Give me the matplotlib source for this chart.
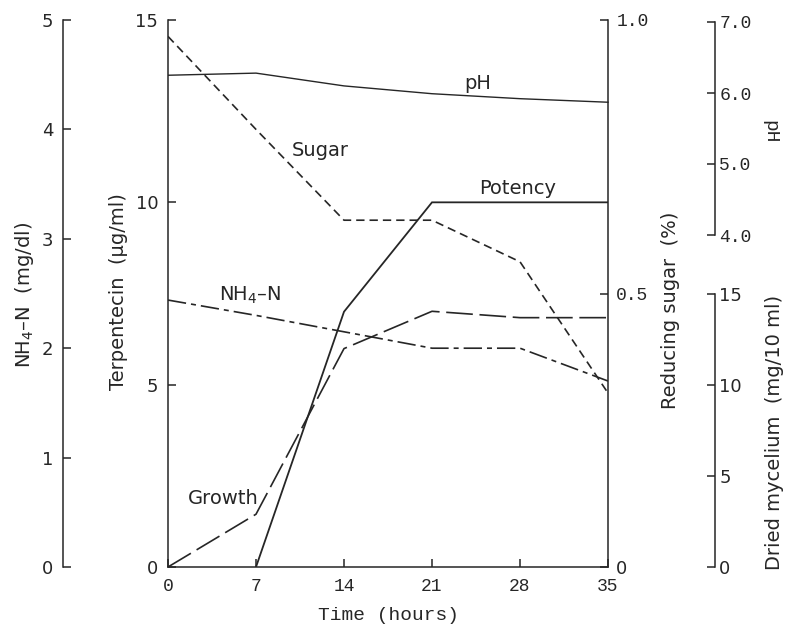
import matplotlib
matplotlib.use("Agg")
from matplotlib import pyplot as plt

# time points (hours)
hours = [0, 7, 14, 21, 28, 35]

potency_t = [7, 14, 21, 28, 35]
potency = [0.0, 7.0, 10.0, 10.0, 10.0]          # Terpentecin (ug/ml)
sugar = [0.97, 0.80, 0.634, 0.634, 0.558, 0.318]  # Reducing sugar (%)
nh4 = [2.44, 2.30, 2.15, 2.0, 2.0, 1.70]        # NH4-N (mg/dl)
growth = [0.0, 2.9, 12.0, 14.05, 13.7, 13.7]    # Dried mycelium (mg/10 ml)
ph = [6.25, 6.28, 6.10, 5.99, 5.92, 5.87]

x_ticks = [0, 7, 14, 21, 28, 35]
terp_ticks = [0, 5, 10, 15]
nh4_ticks = [0, 1, 2, 3, 4, 5]
sugar_ticks = [0, 0.5, 1.0]
sugar_labels = ["0", "0.5", "1.0"]
ph_ticks = [4, 5, 6, 7]
ph_labels = ["4.0", "5.0", "6.0", "7.0"]
myc_ticks = [0, 5, 10, 15]

SANS = "DejaVu Sans"
MONO = "Liberation Mono"
INK = "#262626"

plt.rcParams["mathtext.fontset"] = "dejavusans"

W, H = 787, 630
fig = plt.figure(figsize=(W / 100, H / 100), dpi=100)


def box(x0, y0, x1, y1):
    return [x0 / W, 1 - y1 / H, (x1 - x0) / W, (y1 - y0) / H]


def only_spine(a, side):
    for s in a.spines:
        a.spines[s].set_visible(s == side)
    a.spines[side].set_linewidth(1.1)
    a.spines[side].set_color(INK)


tick_kw = dict(direction="in", length=6, width=1.1, color=INK, labelcolor=INK)

# main axes: terpentecin vs time
ax = fig.add_axes(box(168, 20, 608, 567))
ax.set_xlim(0, 35)
ax.set_ylim(0, 15)
ax.spines["top"].set_visible(False)
ax.spines["right"].set_visible(False)
for s in ["left", "bottom"]:
    ax.spines[s].set_linewidth(1.1)
    ax.spines[s].set_color(INK)
ax.set_xticks(x_ticks)
ax.set_xticklabels([str(t) for t in x_ticks], family=MONO, fontsize=13)
ax.set_yticks(terp_ticks)
ax.set_yticklabels([str(t) for t in terp_ticks], family=SANS, fontsize=13)
ax.tick_params(axis="x", pad=8, **tick_kw)
ax.tick_params(axis="y", pad=7, **tick_kw)
ax.plot(potency_t, potency, color=INK, lw=1.3, solid_joinstyle="miter")

# NH4-N axis, far left
ax_n = ax.twinx()
ax_n.set_ylim(0, 5)
only_spine(ax_n, "left")
ax_n.spines["left"].set_position(("axes", -105 / 440))
ax_n.yaxis.set_ticks_position("left")
ax_n.yaxis.set_label_position("left")
ax_n.set_yticks(nh4_ticks)
ax_n.set_yticklabels([str(t) for t in nh4_ticks], family=SANS, fontsize=13)
ax_n.tick_params(axis="y", pad=7, **tick_kw)
ax_n.plot(hours, nh4, color=INK, lw=1.2, linestyle=(0, (11, 3, 3, 3)))

# reducing sugar axis, right of the plot
ax_s = ax.twinx()
ax_s.set_ylim(0, 1.0)
only_spine(ax_s, "right")
ax_s.set_yticks(sugar_ticks)
ax_s.set_yticklabels(sugar_labels, family=MONO, fontsize=13)
ax_s.get_yticklabels()[0].set_family(SANS)
ax_s.tick_params(axis="y", pad=6, **tick_kw)
ax_s.plot(hours, sugar, color=INK, lw=1.2, linestyle=(0, (5, 3)))

# pH axis, upper right
x_far = 35 * (715 - 168) / (608 - 168)
ax_p = fig.add_axes(box(168, 22, 715, 235))
ax_p.patch.set_visible(False)
only_spine(ax_p, "right")
ax_p.set_xlim(0, x_far)
ax_p.set_ylim(4, 7)
ax_p.set_xticks([])
ax_p.yaxis.set_ticks_position("right")
ax_p.set_yticks(ph_ticks)
ax_p.set_yticklabels(ph_labels, family=MONO, fontsize=13)
ax_p.tick_params(axis="y", pad=3, **tick_kw)
ax_p.plot(hours, ph, color=INK, lw=1.0)

# dried mycelium axis, lower right
ax_m = fig.add_axes(box(168, 294, 715, 567))
ax_m.patch.set_visible(False)
only_spine(ax_m, "right")
ax_m.set_xlim(0, x_far)
ax_m.set_ylim(0, 15)
ax_m.set_xticks([])
ax_m.yaxis.set_ticks_position("right")
ax_m.set_yticks(myc_ticks)
ax_m.set_yticklabels([str(t) for t in myc_ticks], family=SANS, fontsize=13)
ax_m.tick_params(axis="y", pad=3, **tick_kw)
ax_m.plot(hours, growth, color=INK, lw=1.2, linestyle=(0, (16, 4)))

# curve names
lab = dict(color=INK, fontsize=14, family=SANS, ha="center", va="center")
ax.text(24.6, 13.27, "pH", **lab)
ax.text(12.1, 11.43, "Sugar", **lab)
ax.text(27.8, 10.39, "Potency", **lab)
ax.text(6.5, 7.46, r"NH$_4$–N", **lab)
ax.text(4.4, 1.89, "Growth", **lab)

# axis titles
title_kw = dict(ha="center", va="center", family=SANS, fontsize=14, color=INK)
fig.text(25 / W, 1 - 295 / H, r"NH$_4$–N  (mg/dl)", rotation=90, **title_kw)
fig.text(118 / W, 1 - 292 / H, "Terpentecin  (µg/ml)", rotation=90, **title_kw)
fig.text(670 / W, 1 - 310 / H, "Reducing sugar  (%)", rotation=90, **title_kw)
fig.text(775 / W, 1 - 432 / H, "Dried mycelium  (mg/10 ml)", rotation=90,
         **title_kw)
fig.text(770 / W, 1 - 132 / H, "pH", rotation=270,
         ha="center", va="center", family=MONO, fontsize=14, color=INK)
fig.text(388 / W, 1 - 616 / H, "Time (hours)",
         ha="center", va="center", family=MONO, fontsize=14, color=INK)

fig.savefig("out.png", dpi=100)
